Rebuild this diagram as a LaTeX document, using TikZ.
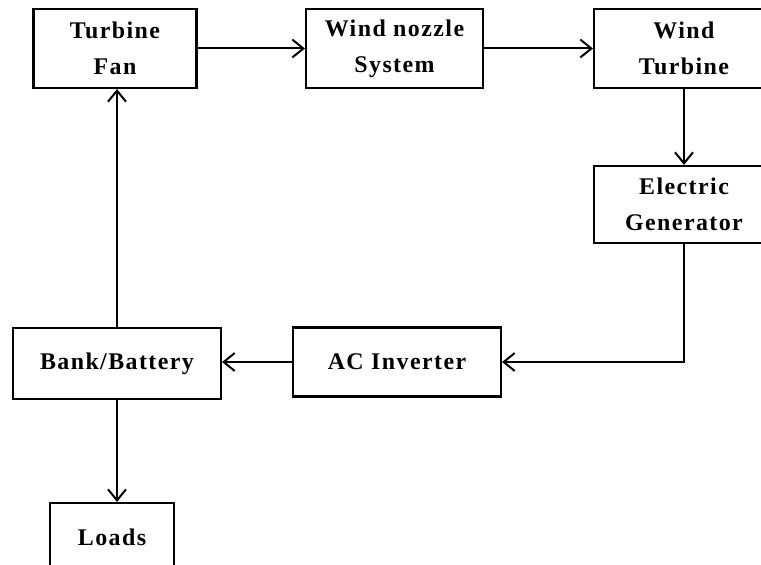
\documentclass[tikz,border=0pt]{standalone}
\usepackage{fontspec}
\setmainfont{Liberation Serif}[LetterSpace=6]
\usetikzlibrary{arrows.meta}

\tikzset{
    blok/.style={draw, line width=2.2bp, align=center, inner sep=0pt,
        font=\fontsize{24}{36}\selectfont\bfseries},
    sipka/.style={line width=2bp, -{Straight Barb[length=11bp, width=18bp, line width=2bp]}}
}

\begin{document}
\begin{tikzpicture}[x=1bp, y=-1bp]
    \useasboundingbox (0,0) rectangle (761,565);
    \clip (0,0) rectangle (761,565);

    % horni rada
    \node[blok, minimum width=163bp, minimum height=79bp] (fan) at (115,48.5) {Turbine\\Fan};
    \node[blok, minimum width=177bp, minimum height=79bp] (nozzle) at (394.5,48.5) {Wind nozzle\\System};
    \node[blok, minimum width=180bp, minimum height=79bp] (wturb) at (684,48.5) {Wind\\Turbine};

    % pravy sloupec
    \node[blok, minimum width=180bp, minimum height=77bp] (gen) at (684,204.5) {Electric\\Generator};

    % dolni rada
    \node[blok, minimum width=208bp, minimum height=69bp] (inv) at (397,362) {AC Inverter};
    \node[blok, minimum width=208bp, minimum height=71bp] (bank) at (117,363.5) {Bank/Battery};
    \node[blok, minimum width=124bp, minimum height=68bp] (loads) at (112,537) {Loads};

    % spojnice
    \draw[sipka] (fan.east) -- (nozzle.west);
    \draw[sipka] (nozzle.east) -- (wturb.west);
    \draw[sipka] (wturb.south) -- (gen.north);
    \draw[sipka] (gen.south) -- (gen.south |- inv.east) -- (inv.east);
    \draw[sipka] (inv.west) -- (inv.west -| bank.east);
    \draw[sipka] (bank.north) -- (bank.north |- fan.south);
    \draw[sipka] (bank.south) -- (bank.south |- loads.north);
\end{tikzpicture}
\end{document}
